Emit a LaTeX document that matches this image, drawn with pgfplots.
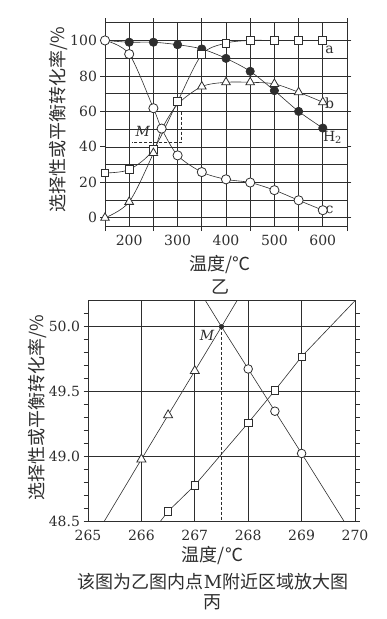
\documentclass[border=0pt]{standalone}
\usepackage{fontspec}
\usepackage{pgfplots}
\pgfplotsset{compat=1.18}
\setmainfont{DejaVu Serif}
\newfontfamily\cjk{Noto Sans CJK SC}
\definecolor{ink}{gray}{0.18}
\begin{document}
\begin{tikzpicture}
\useasboundingbox (0pt,0pt) rectangle (387pt,-619pt);
% ---------------- top chart (乙) ----------------
\begin{axis}[
  at={(105pt,-226.7pt)}, anchor=south west, scale only axis,
  width=242pt, height=204pt,
  xmin=150, xmax=650, ymin=-5, ymax=110,
  axis line style={line width=0.9pt, ink},
  /pgf/number format/assume math mode=true,
  tick label style={font=\fontsize{14}{14}\selectfont, text=ink},
  xtick={150,250,...,650}, xticklabels={},
  extra x ticks={200,300,400,500,600},
  extra x tick labels={200,300,400,500,600},
  extra x tick style={tick style={draw=none}, grid=major},
  ytick={0,20,...,100}, minor ytick={10,30,...,90},
  grid=both,
  major grid style={line width=0.7pt, ink},
  minor grid style={line width=0.7pt, ink},
  tick align=outside, major tick length=4.5pt, minor tick length=0pt,
  tick style={line width=0.8pt, ink},
  clip=false,
]
% lines
\addplot[ink, line width=0.6pt, smooth] coordinates {(150,25.3)(200,27.2)(250,38.5)(300,65.6)(350,92)(400,98.5)(450,100)(500,100)(550,100)(600,100)};
\addplot[ink, line width=0.6pt, smooth] coordinates {(150,0)(200,9)(250,36.5)(267.5,50)(300,64)(350,74)(400,76.4)(450,76.4)(500,75.5)(550,70.8)(600,65.2)};
\addplot[ink, line width=0.6pt, smooth] coordinates {(150,100)(200,92.3)(250,61.8)(267,50.3)(300,35.2)(350,25.8)(400,21.7)(450,19.9)(500,15.6)(550,9.9)(600,4.3)};
\addplot[ink, line width=0.6pt, smooth] coordinates {(150,100)(200,99)(250,99)(300,97.6)(350,95.2)(400,89.9)(450,82.6)(500,71.7)(550,60)(600,50.6)};
% markers
\addplot[only marks, mark=*, mark size=4.2pt, mark options={fill=ink, draw=ink, line width=0.6pt}] coordinates {(200,99)(250,99)(300,97.6)(350,95.2)(400,89.9)(450,82.6)(500,71.7)(550,60)(600,50.6)};
\addplot[only marks, mark=square*, mark size=3.9pt, mark options={fill=white, draw=ink, line width=0.8pt}] coordinates {(150,25.3)(200,27.2)(250,38.5)(300,65.6)(350,92)(400,98.5)(450,100)(500,100)(550,100)(600,100)};
\addplot[only marks, mark=triangle*, mark size=5pt, mark options={fill=white, draw=ink, line width=0.8pt}] coordinates {(150,0)(200,9)(250,36.5)(350,74)(400,76.4)(450,76.4)(500,75.5)(550,70.8)(600,65.2)};
\addplot[only marks, mark=*, mark size=4.6pt, mark options={fill=white, draw=ink, line width=0.8pt}] coordinates {(150,100)(200,92.3)(250,61.8)(267,50.3)(300,35.2)(350,25.8)(400,21.7)(450,19.9)(500,15.6)(550,9.9)(600,4.3)};
% annotations
\draw[ink, line width=0.6pt, densely dashed] (axis cs:205,60) -- (axis cs:308,60) -- (axis cs:308,42.5) -- (axis cs:205,42.5);
\node[text=ink, font=\itshape\fontsize{14}{14}\selectfont] at (axis cs:228,48.6) {M};
\node[text=ink, font=\fontsize{14}{14}\selectfont] at (axis cs:614,94.5) {a};
\node[text=ink, font=\fontsize{14}{14}\selectfont] at (axis cs:614,64.5) {b};
\node[text=ink, font=\fontsize{14}{14}\selectfont] at (axis cs:620,45.5) {H\textsubscript{2}};
\node[text=ink, font=\fontsize{14}{14}\selectfont] at (axis cs:614,4.4) {c};
\end{axis}
% ---------------- bottom chart (丙) ----------------
\begin{axis}[
  at={(88pt,-521.7pt)}, anchor=south west, scale only axis,
  width=267pt, height=221pt,
  xmin=265, xmax=270, ymin=48.5, ymax=50.2,
  axis line style={line width=0.9pt, ink},
  /pgf/number format/assume math mode=true,
  tick label style={font=\fontsize{14}{14}\selectfont, text=ink},
  xtick={265,...,270}, xtick style={draw=none},
  ytick={48.5,49,49.5,50},
  yticklabel style={/pgf/number format/.cd, fixed, fixed zerofill, precision=1},
  minor ytick={48.6,48.7,48.8,48.9,49.1,49.2,49.3,49.4,49.6,49.7,49.8,49.9,50.1},
  grid=major,
  major grid style={line width=0.7pt, ink},
  tick align=outside, major tick length=4.5pt, minor tick length=4.5pt,
  tick style={line width=0.8pt, ink},
  clip=false,
]
\addplot[ink, line width=0.6pt] coordinates {(265.3,48.5)(266,48.98)(266.5,49.32)(267,49.66)(267.5,50)(267.79,50.2)};
\addplot[ink, line width=0.6pt] coordinates {(267.2,50.2)(267.5,50)(268,49.675)(268.5,49.35)(269,49.025)(269.8,48.5)};
\addplot[ink, line width=0.6pt] coordinates {(266.35,48.5)(266.5,48.58)(267,48.78)(268,49.26)(268.5,49.51)(269,49.77)(270,50.2)};
\draw[ink, line width=0.6pt, densely dashed] (axis cs:267.5,50) -- (axis cs:267.5,48.5);
\addplot[only marks, mark=triangle*, mark size=5.2pt, mark options={fill=white, draw=ink, line width=0.8pt}] coordinates {(266,48.98)(266.5,49.32)(267,49.66)};
\addplot[only marks, mark=*, mark size=4.3pt, mark options={fill=white, draw=ink, line width=0.8pt}] coordinates {(268,49.675)(268.5,49.35)(269,49.025)};
\addplot[only marks, mark=square*, mark size=3.7pt, mark options={fill=white, draw=ink, line width=0.8pt}] coordinates {(266.5,48.58)(267,48.78)(268,49.26)(268.5,49.51)(269,49.77)};
\addplot[only marks, mark=*, mark size=2.4pt, mark options={fill=ink, draw=ink}] coordinates {(267.5,50)};
\node[text=ink, font=\itshape\fontsize{14}{14}\selectfont] at (axis cs:267.23,49.93) {M};
\end{axis}
% ---------------- texts ----------------
\node[text=ink, rotate=90, font=\cjk\fontsize{18}{18}\selectfont] at (58pt,-120pt) {选择性或平衡转化率/\%};
\node[text=ink, font=\cjk\fontsize{18}{18}\selectfont] at (220pt,-265pt) {温度/℃};
\node[text=ink, font=\cjk\fontsize{18}{18}\selectfont] at (220pt,-287pt) {乙};
\node[text=ink, rotate=90, font=\cjk\fontsize{18}{18}\selectfont] at (37pt,-408pt) {选择性或平衡转化率/\%};
\node[text=ink, font=\cjk\fontsize{18}{18}\selectfont] at (212.5pt,-555pt) {温度/℃};
\node[text=ink, font=\fontsize{18}{18}\selectfont] at (213pt,-582pt) {{\cjk 该图为乙图内点}M{\cjk 附近区域放大图}};
\node[text=ink, font=\cjk\fontsize{18}{18}\selectfont] at (212pt,-602pt) {丙};
\end{tikzpicture}
\end{document}
